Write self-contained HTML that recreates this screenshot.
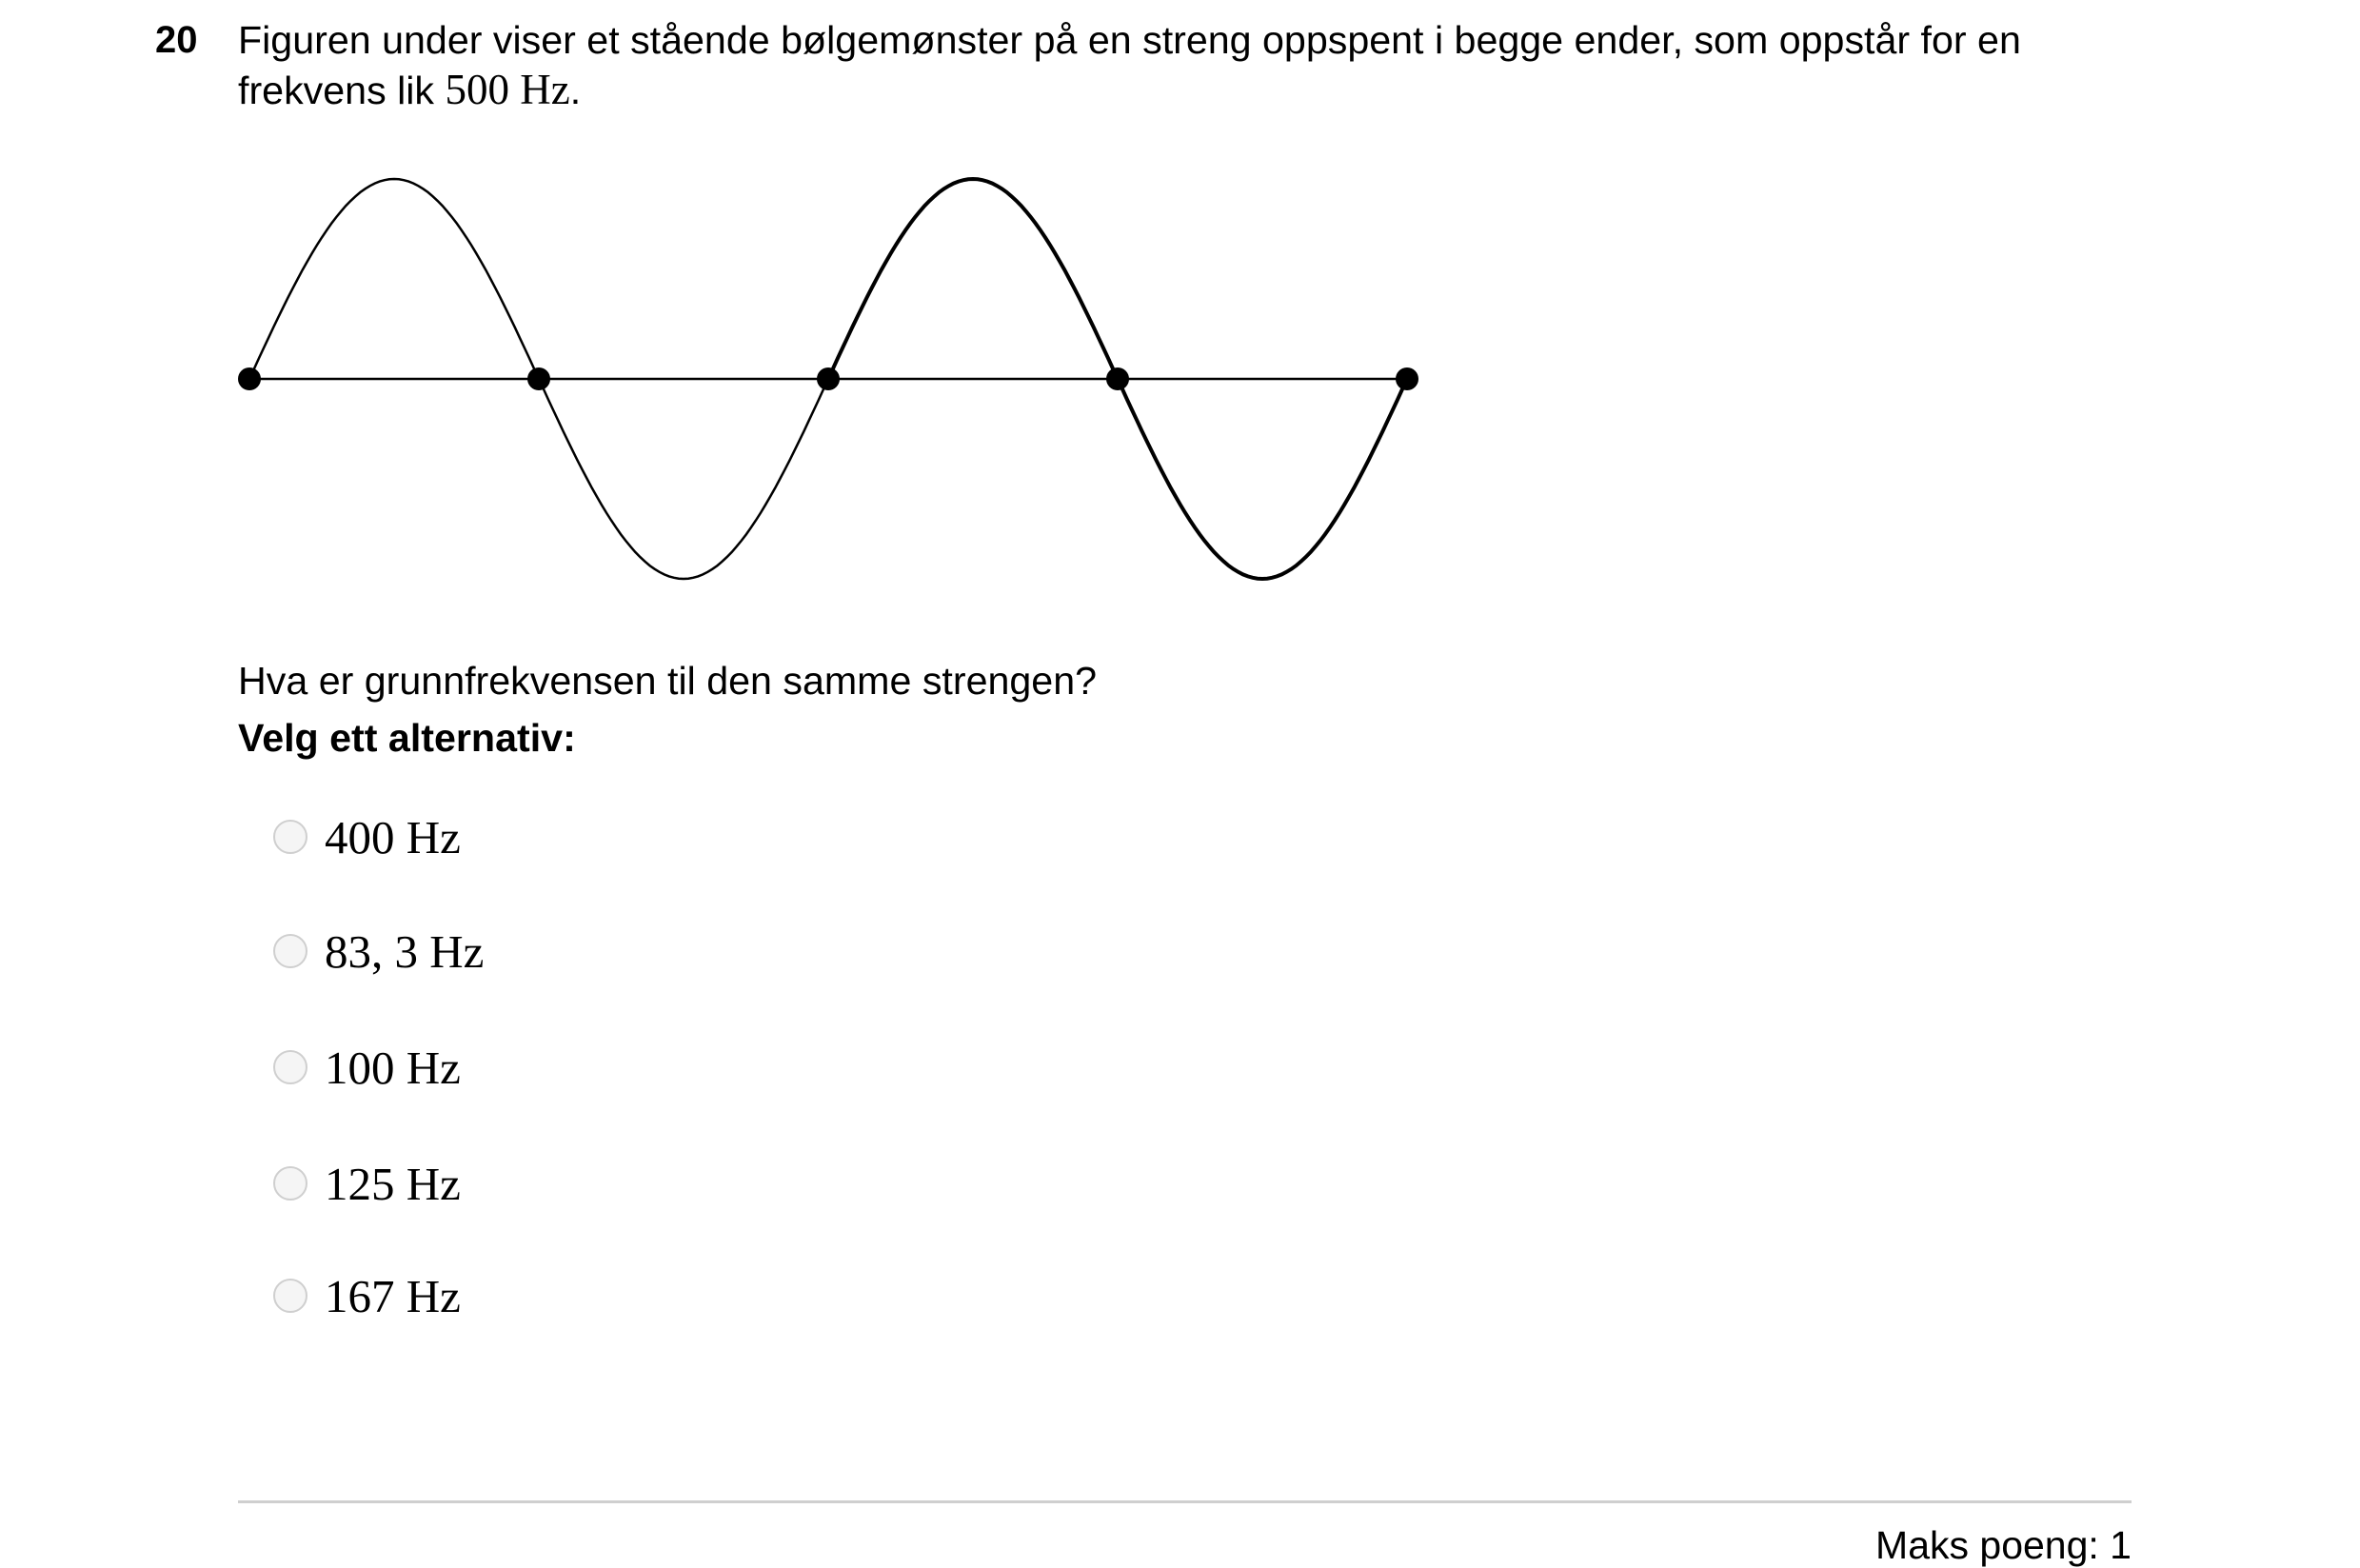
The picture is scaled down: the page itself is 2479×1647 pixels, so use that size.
<!DOCTYPE html>
<html><head><meta charset="utf-8"><style>
html,body{margin:0;padding:0;background:#fff;}
body{width:2479px;height:1624px;position:relative;overflow:hidden;font-family:"Liberation Sans",Arial,sans-serif;color:#000;}
.abs{position:absolute;white-space:nowrap;}
.num{left:163px;top:20px;font-size:40px;font-weight:bold;}
.q{left:250px;font-size:41.2px;}
.m{font-family:"Liberation Serif",serif;font-size:45px;}
.radio{position:absolute;width:36px;height:36px;border-radius:50%;border:2px solid #cfcfcf;background:#f5f5f5;box-sizing:border-box;}
.opt{position:absolute;left:341px;font-family:"Liberation Serif",serif;font-size:49px;}
</style></head><body>
<div class="abs num">20</div>
<div class="abs q" style="top:19px">Figuren under viser et stående bølgemønster på en streng oppspent i begge ender, som oppstår for en</div>
<div class="abs q" style="top:68px">frekvens lik <span class="m">500 Hz</span>.</div>

<svg class="abs" style="left:0;top:0" width="2479" height="700">
<g id="wave"></g>
</svg>

<div class="abs q" style="top:692px">Hva er grunnfrekvensen til den samme strengen?</div>
<div class="abs q" style="top:752px;font-weight:bold">Velg ett alternativ:</div>

<div class="radio" style="left:287px;top:861px"></div>
<div class="opt" style="top:851px">400 Hz</div>
<div class="radio" style="left:287px;top:981px"></div>
<div class="opt" style="top:971px">83, 3 Hz</div>
<div class="radio" style="left:287px;top:1103px"></div>
<div class="opt" style="top:1093px">100 Hz</div>
<div class="radio" style="left:287px;top:1225px"></div>
<div class="opt" style="top:1215px">125 Hz</div>
<div class="radio" style="left:287px;top:1343px"></div>
<div class="opt" style="top:1333px">167 Hz</div>

<div class="abs" style="left:250px;top:1576px;width:1989px;height:3px;background:#cfcfcf"></div>
<div class="abs" style="right:240px;top:1600px;font-size:41px">Maks poeng: 1</div>

<script>
const halfWaveSigns = [1, -1, 1, -1];
const nodeIndices = [0, 1, 2, 3, 4];
const strokeWidths = [2.5, 2.5, 4, 4];
const X0 = 262, X1 = 1478, Y0 = 398, AMP = 210;
const nHalf = halfWaveSigns.length;
const xScale = i => X0 + (X1 - X0) * i / nHalf;
const g = document.getElementById('wave');
const NS = 'http://www.w3.org/2000/svg';
const axis = document.createElementNS(NS, 'line');
axis.setAttribute('x1', X0); axis.setAttribute('x2', X1);
axis.setAttribute('y1', Y0); axis.setAttribute('y2', Y0);
axis.setAttribute('stroke', '#000'); axis.setAttribute('stroke-width', '2.5');


g.appendChild(axis);
halfWaveSigns.forEach((s, k) => {
  let d = '';
  for (let j = 0; j <= 60; j++) {
    const t = j / 60;
    const x = xScale(k + t);
    const y = Y0 - s * AMP * Math.sin(Math.PI * t);
    d += (j ? 'L' : 'M') + x.toFixed(1) + ' ' + y.toFixed(1);
  }
  const p = document.createElementNS(NS, 'path');
  p.setAttribute('d', d); p.setAttribute('fill', 'none');
  p.setAttribute('stroke', '#000'); p.setAttribute('stroke-width', strokeWidths[k]);
  
  
  g.appendChild(p);
});
nodeIndices.forEach(i => {
  const c = document.createElementNS(NS, 'circle');
  c.setAttribute('cx', xScale(i)); c.setAttribute('cy', Y0); c.setAttribute('r', 12);
  c.setAttribute('fill', '#000');
  
  
  g.appendChild(c);
});
</script>
</body></html>
